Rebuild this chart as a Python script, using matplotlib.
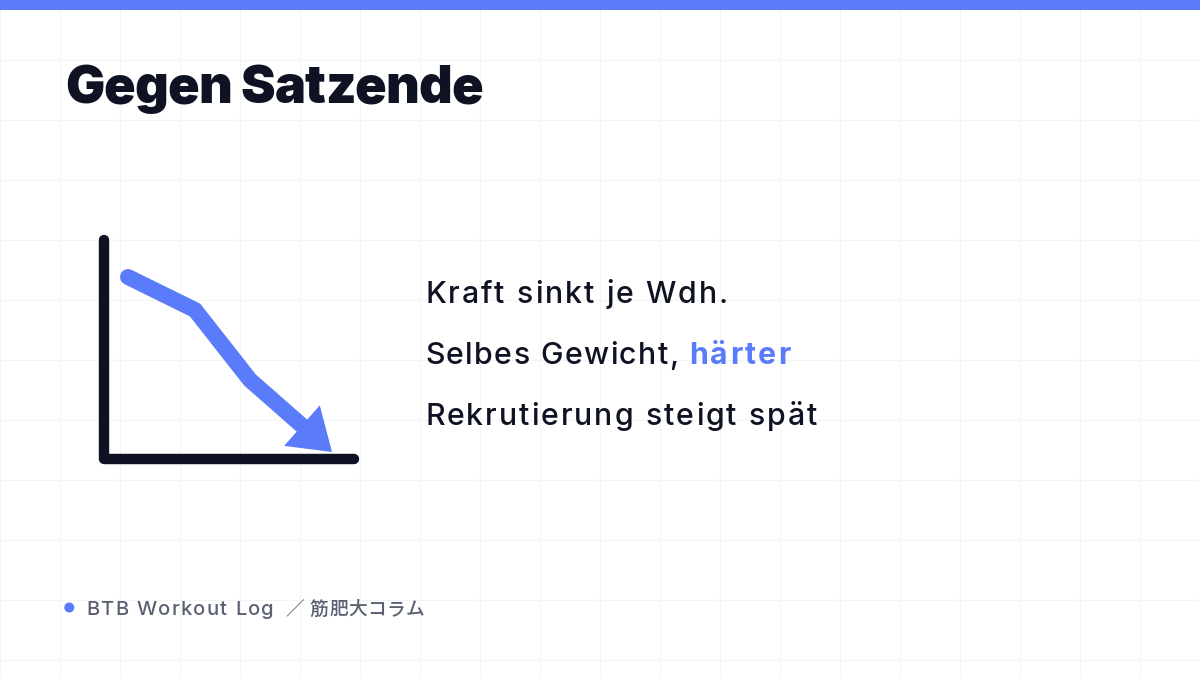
import numpy as np
import matplotlib
matplotlib.use("Agg")
import matplotlib.pyplot as plt
from matplotlib.patches import Polygon, Rectangle, Circle
from matplotlib.font_manager import FontProperties

# ---- data ----
title = "Gegen Satzende"
lines = ["Kraft sinkt je Wdh.", "Selbes Gewicht, ", "Rekrutierung steigt spät"]
highlight = "härter"
footer_latin = "BTB Workout Log"
footer_sep = "／"
footer_jp = "筋肥大コラム"
# trend icon: repetition position vs. force (icon units)
trend_x = [24, 91, 146, 228]
trend_y = [182, 149, 79, 7]

BLUE = "#5b7cfa"
DARK = "#0f1222"
GRAY = "#5a6072"
GRID = "#f3f4f6"

W, H = 1200, 675
fig = plt.figure(figsize=(12, 6.75), dpi=100)
fig.patch.set_facecolor("white")

bg = fig.add_axes([0, 0, 1, 1])
bg.set_xlim(0, W)
bg.set_ylim(H, 0)
bg.axis("off")
for gx in np.arange(0, W + 1, 60):
    bg.axvline(gx, color=GRID, lw=0.8, zorder=0)
for gy in np.arange(0, H + 1, 60):
    bg.axhline(gy, color=GRID, lw=0.8, zorder=0)
bg.add_patch(Rectangle((0, 0), W, 10, color=BLUE, lw=0, zorder=2))

LAT = ["Inter", "Noto Sans CJK JP", "DejaVu Sans"]
JP = ["Noto Sans CJK JP", "DejaVu Sans"]
renderer = fig.canvas.get_renderer()


def spaced(x, y, s, spacing, size, weight, color, family=LAT):
    """Draw text s with baseline at y, starting at x, with extra letter spacing (px)."""
    prop = FontProperties(family=family, size=size, weight=weight)
    for i, ch in enumerate(s):
        if ch == " ":
            continue
        wpre = renderer.get_text_width_height_descent(s[:i], prop, ismath=False)[0] if i else 0.0
        bg.text(x + wpre + i * spacing, y, ch, fontproperties=prop, color=color,
                va="baseline", ha="left")
    wtot = renderer.get_text_width_height_descent(s, prop, ismath=False)[0]
    return x + wtot + len(s) * spacing


spaced(65, 103, title, -0.8, 37.5, "black", DARK, family=["Inter", "DejaVu Sans"])

baselines = [303, 364, 425]
spacings = [2.0, 1.4, 2.0]
for i, (t, yb, sp) in enumerate(zip(lines, baselines, spacings)):
    xe = spaced(425, yb, t, sp, 21.8, "medium", DARK)
    if i == 1:
        spaced(xe, yb, highlight, 2.3, 21.8, "bold", BLUE)

bg.add_patch(Circle((69.3, 607.5), 5, color=BLUE, lw=0))
xe = spaced(86, 615, footer_latin, 1.3, 14.5, "medium", GRAY)
bg.text(285, 615, footer_sep, fontproperties=FontProperties(family=JP, size=13.5),
        color=GRAY, va="baseline", ha="left")
spaced(310, 615, footer_jp, 0.3, 13.5, "medium", GRAY, family=JP)

# ---- icon axes ----
x0, y0 = 104, 459  # origin in pixels
iw, ih = 250, 219
ax = fig.add_axes([x0 / W, (H - y0) / H, iw / W, ih / H])
ax.set_xlim(0, iw)
ax.set_ylim(0, ih)
ax.axis("off")
ax.patch.set_alpha(0)
ax.plot([0, 0, iw], [ih, 0, 0], color=DARK, lw=7.5, solid_capstyle="round",
        solid_joinstyle="round", clip_on=False)

tx = np.array(trend_x, float)
ty = np.array(trend_y, float)
d = np.array([tx[-1] - tx[-2], ty[-1] - ty[-2]])
d /= np.hypot(*d)
n = np.array([-d[1], d[0]])
head_len, head_w = 40, 27
base = np.array([tx[-1], ty[-1]]) - d * head_len
lx = list(tx[:-1]) + [base[0] + d[0] * 4]
ly = list(ty[:-1]) + [base[1] + d[1] * 4]
ax.plot(lx, ly, color=BLUE, lw=11.5, solid_capstyle="round", solid_joinstyle="miter",
        clip_on=False)
head = Polygon([[tx[-1], ty[-1]], base + n * head_w, base - n * head_w],
               closed=True, color=BLUE, lw=0, clip_on=False)
ax.add_patch(head)

fig.savefig("out.png", dpi=100, facecolor="white")
